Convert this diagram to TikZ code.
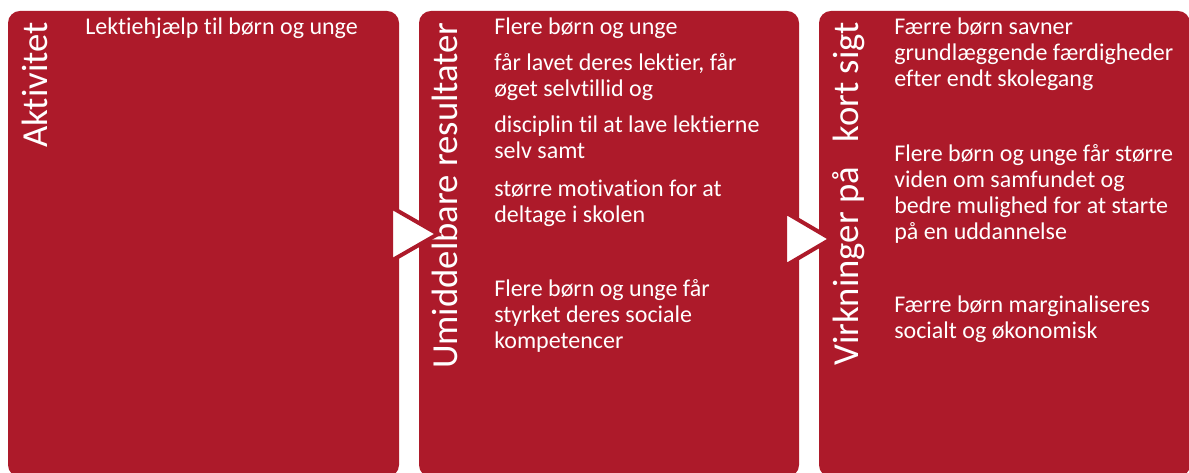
\documentclass[tikz,border=0pt]{standalone}
\usepackage{fontspec}
\setmainfont{Carlito}[Ligatures=NoCommon]
\definecolor{boxred}{HTML}{AD1A2A}

\begin{document}
\begin{tikzpicture}[x=0.75pt,y=0.75pt,
    panel/.style={fill=boxred,rounded corners=9pt},
    heading/.style={rotate=90,anchor=east,text=white,inner sep=0pt,font=\fontsize{27.5}{32}\selectfont},
    body/.style={anchor=base west,align=left,text=white,inner sep=0pt,font=\fontsize{18}{19.5}\selectfont},
    pointer/.style={fill=white,draw=boxred,line width=3pt,line join=miter}]
            \useasboundingbox (0,0) rectangle (1189,473);
            % the three columns
            \fill[panel] (8,-4) rectangle (399,462);
            \fill[panel] (419,-4) rectangle (799,462);
            \fill[panel] (819,-4) rectangle (1190,462);
            \node[heading] (Akt) at (35,451) {Aktivitet};
            \node[heading] (Res) at (445,451) {Umiddelbare resultater};
            \node[heading] (Virk) at (849,451) {Virkninger på\ \ \ kort sigt};
            % texts, anchored at the baseline of their last line
            \node[body] (akt1) at (85,438) {Lektiehjælp til børn og unge};
            \node[body] (res1) at (494,438) {Flere børn og unge};
            \node[body] (res2) at (494,376) {får lavet deres lektier, får\\øget selvtillid og};
            \node[body] (res3) at (494,314) {disciplin til at lave lektierne\\selv samt};
            \node[body] (res4) at (494,250) {større motivation for at\\deltage i skolen};
            \node[body] (res5) at (494,124) {Flere børn og unge får\\styrket deres sociale\\kompetencer};
            \node[body] (virk1) at (894,386) {Færre børn savner\\grundlæggende færdigheder\\efter endt skolegang};
            \node[body] (virk2) at (894,233) {Flere børn og unge får større\\viden om samfundet og\\bedre mulighed for at starte\\på en uddannelse};
            \node[body] (virk3) at (894,134) {Færre børn marginaliseres\\socialt og økonomisk};
            % arrows between columns
            \filldraw[pointer] (391,266) -- (391,212) -- (438,239) -- cycle;
            \filldraw[pointer] (785,261) -- (785,207) -- (831,234) -- cycle;
        \end{tikzpicture}
\end{document}
